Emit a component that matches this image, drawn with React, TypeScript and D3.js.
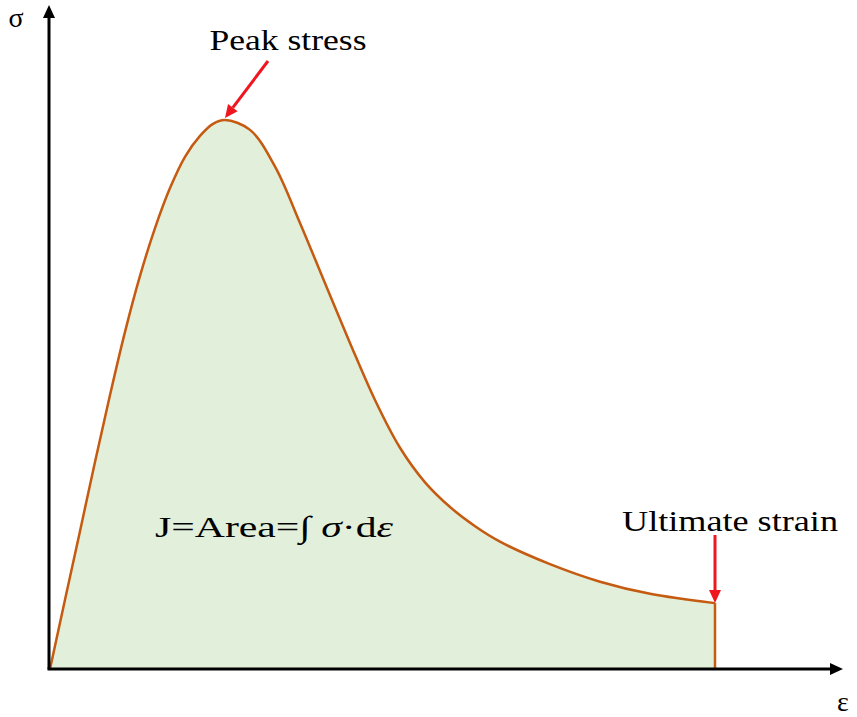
import React from "react";
import * as d3 from "d3";

// Normalised strain (peak strain = 1) and stress (peak stress = 1)
const strain = [0, 0.0857, 0.1714, 0.2571, 0.3429, 0.4286, 0.5143, 0.6, 0.6857, 0.7714, 0.8571, 0.9314, 1.0, 1.143, 1.286, 1.429, 1.571, 1.714, 1.857, 2.0, 2.143, 2.286, 2.429, 2.571, 2.857, 3.143, 3.429, 3.8];
const stress = [0, 0.126, 0.251, 0.377, 0.499, 0.614, 0.716, 0.803, 0.876, 0.933, 0.971, 0.993, 1.0, 0.982, 0.915, 0.812, 0.703, 0.594, 0.49, 0.403, 0.34, 0.295, 0.26, 0.232, 0.191, 0.159, 0.137, 0.12];
const peakIndex = 12;
const ultimateIndex = strain.length - 1;
const labels = { y: "σ", x: "ε", peak: "Peak stress", ultimate: "Ultimate strain" };

const W = 857, H = 717;

export default function App() {
  const x = d3.scaleLinear().domain([0, 1]).range([50, 225]);
  const y = d3.scaleLinear().domain([0, 1]).range([669, 120]);
  const pts: [number, number][] = strain.map((s, i) => [s, stress[i]]);

  const curve = d3.curveCatmullRom.alpha(0.5);
  const line = d3.line<[number, number]>().x(d => x(d[0])).y(d => y(d[1])).curve(curve);
  const area = d3.area<[number, number]>().x(d => x(d[0])).y0(y(0)).y1(d => y(d[1])).curve(curve);

  const ox = x(0) - 1, oy = y(0);
  const xEnd = 843, yTop = 5;
  const ux = x(strain[ultimateIndex]);
  const uy = y(stress[ultimateIndex]);
  const px = x(strain[peakIndex]);
  const py = y(stress[peakIndex]);

  // peak arrow geometry
  const ax0 = 268, ay0 = 61;
  const tipX = px, tipY = py - 2;
  const ang = Math.atan2(tipY - ay0, tipX - ax0);
  const hl = 13, hw = 6;
  const bx = tipX - hl * Math.cos(ang), by = tipY - hl * Math.sin(ang);
  const nx = -Math.sin(ang), ny = Math.cos(ang);

  const red = "#f0161f";
  const ts = { fontFamily: "'Liberation Serif', 'Times New Roman', serif" };

  return (
    <svg width={W} height={H} style={{ position: "absolute", left: 0, top: 0, background: "#fff" }}>
      <path d={area(pts) || ""} fill="#e2efda" />
      <path d={line(pts) || ""} fill="none" stroke="#c55a11" strokeWidth={2.5} />
      <line x1={ux} y1={uy} x2={ux} y2={oy} stroke="#c55a11" strokeWidth={2.5} />

      {/* axes */}
      <line x1={ox} y1={oy} x2={ox} y2={yTop + 12} stroke="#000" strokeWidth={3} />
      <path d={`M${ox},${yTop} L${ox - 6},${yTop + 13} L${ox + 6},${yTop + 13} Z`} fill="#000" />
      <line x1={ox - 1.5} y1={oy} x2={xEnd - 12} y2={oy} stroke="#000" strokeWidth={3} />
      <path d={`M${xEnd},${oy} L${xEnd - 13},${oy - 6} L${xEnd - 13},${oy + 6} Z`} fill="#000" />

      <text x={16} y={27} style={ts} fontSize={28} textAnchor="middle">{labels.y}</text>
      <text x={843} y={711} style={ts} fontSize={28} textAnchor="middle">{labels.x}</text>

      {/* peak stress annotation */}
      <text x={288} y={50} style={ts} fontSize={30} textAnchor="middle" textLength={157} lengthAdjust="spacingAndGlyphs">{labels.peak}</text>
      <line x1={ax0} y1={ay0} x2={bx} y2={by} stroke={red} strokeWidth={3} />
      <path d={`M${tipX},${tipY} L${bx + nx * hw},${by + ny * hw} L${bx - nx * hw},${by - ny * hw} Z`} fill={red} />

      {/* ultimate strain annotation */}
      <text x={730} y={531} style={ts} fontSize={30} textAnchor="middle" textLength={216} lengthAdjust="spacingAndGlyphs">{labels.ultimate}</text>
      <line x1={ux} y1={535} x2={ux} y2={uy - 12} stroke={red} strokeWidth={3} />
      <path d={`M${ux},${uy} L${ux - 6},${uy - 13} L${ux + 6},${uy - 13} Z`} fill={red} />

      {/* area formula */}
      <text x={155} y={537} style={ts} fontSize={30} textLength={238} lengthAdjust="spacingAndGlyphs">
        J=Area=∫ <tspan fontStyle="italic">σ</tspan>·d<tspan fontStyle="italic">ε</tspan>
      </text>
    </svg>
  );
}
